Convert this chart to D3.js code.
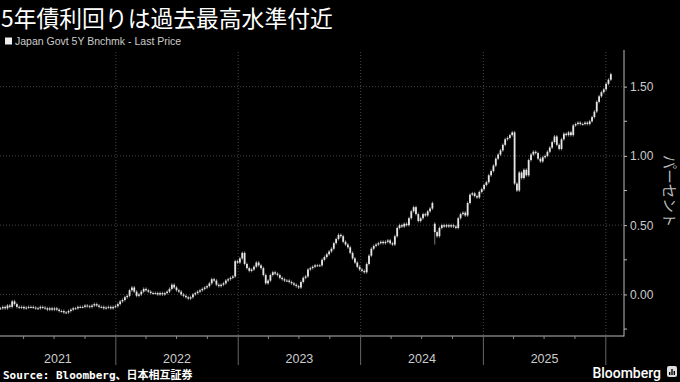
<!DOCTYPE html>
<html>
<head>
<meta charset="utf-8">
<script src="https://cdn.jsdelivr.net/npm/d3@7"></script>
<style>
  body { margin: 0; background: #000; }
  svg { display: block; }
</style>
</head>
<body>
<script>
	// chart text
	var titleText = "5年債利回りは過去最高水準付近";
	var seriesName = "Japan Govt 5Y Bnchmk - Last Price";
	var unitLabel = "パーセント";
	var sourceText = "Source: Bloomberg、日本相互証券";

	// axis ticks
	var years = [2021, 2022, 2023, 2024, 2025];
	var yTicks = [0, 0.5, 1.0, 1.5];
	var yMinorTicks = [-0.25, 0.25, 0.75, 1.25];

	// weekly closes (%), first week ending 2021-01-22
	var firstWeek = "2021-01-22";
	var close2021 = [-0.10, -0.09, -0.10, -0.08, -0.09, -0.05, -0.07, -0.09, -0.095, -0.09,
		-0.10, -0.095, -0.09, -0.09, -0.095, -0.10, -0.10, -0.09, -0.095, -0.10,
		-0.11, -0.10, -0.11, -0.10, -0.11, -0.12, -0.12, -0.13, -0.13, -0.12,
		-0.11, -0.10, -0.10, -0.09, -0.09, -0.09, -0.08, -0.085, -0.09, -0.08,
		-0.07, -0.08, -0.09, -0.09, -0.10, -0.095, -0.09, -0.10, -0.09, -0.085];
	var close2022 = [-0.07, -0.05, -0.04, -0.02, -0.01, 0.03, 0.05, 0.02, -0.01, 0.00,
		0.02, 0.04, 0.03, 0.02, 0.01, 0.01, 0.01, 0.00, 0.01, 0.00,
		0.01, 0.02, 0.04, 0.07, 0.05, 0.03, 0.02, 0.00, -0.01, -0.02,
		-0.03, -0.02, 0.00, 0.01, 0.02, 0.03, 0.04, 0.05, 0.06, 0.08,
		0.11, 0.10, 0.07, 0.06, 0.07, 0.08, 0.10, 0.11, 0.12, 0.13,
		0.24, 0.23];
	var close2023 = [0.26, 0.30, 0.22, 0.19, 0.17, 0.18, 0.20, 0.23, 0.21, 0.19,
		0.14, 0.08, 0.10, 0.14, 0.16, 0.15, 0.14, 0.12, 0.11, 0.10,
		0.10, 0.09, 0.08, 0.07, 0.06, 0.05, 0.09, 0.12, 0.13, 0.18,
		0.19, 0.20, 0.21, 0.21, 0.21, 0.25, 0.27, 0.29, 0.31, 0.33,
		0.37, 0.40, 0.43, 0.42, 0.38, 0.36, 0.34, 0.30, 0.26, 0.23,
		0.20, 0.18];
	var close2024 = [0.17, 0.16, 0.22, 0.28, 0.33, 0.35, 0.36, 0.37, 0.38, 0.37,
		0.38, 0.39, 0.37, 0.36, 0.42, 0.48, 0.50, 0.49, 0.51, 0.50,
		0.55, 0.60, 0.63, 0.58, 0.53, 0.55, 0.58, 0.57, 0.60, 0.62,
		0.66, 0.45, 0.42, 0.48, 0.50, 0.49, 0.50, 0.49, 0.50, 0.49,
		0.48, 0.55, 0.58, 0.59, 0.57, 0.66, 0.72, 0.73, 0.71, 0.70,
		0.74, 0.76];
	var close2025 = [0.79, 0.81, 0.86, 0.89, 0.93, 0.98, 1.01, 1.04, 1.08, 1.12,
		1.13, 1.15, 1.17, 0.80, 0.75, 0.88, 0.84, 0.90, 0.86, 0.97,
		1.01, 1.03, 1.02, 0.98, 0.96, 0.99, 1.00, 1.03, 1.06, 1.10,
		1.14, 1.08, 1.05, 1.12, 1.16, 1.15, 1.17, 1.15, 1.22, 1.23,
		1.24, 1.23, 1.23, 1.24, 1.23, 1.25, 1.28, 1.32, 1.39, 1.43,
		1.46, 1.48];
	var close2026 = [1.52, 1.55, 1.59];

	// weeks that opened on a gap (week index, open, low)
	var gapWeeks = [185];
	var gapOpens = [0.51];
	var gapLows = [0.36];

	var closes = close2021.concat(close2022, close2023, close2024, close2025, close2026);
	var start = new Date(firstWeek + "T00:00:00Z");
	var candles = closes.map(function (c, i) {
		var o = i > 0 ? closes[i - 1] : c;
		var k = gapWeeks.indexOf(i);
		var lo = null;
		if (k >= 0) { o = gapOpens[k]; lo = gapLows[k]; }
		return { date: d3.utcDay.offset(start, 7 * i), open: o, close: c, low: lo };
	});

	var width = 680, height = 382;
	var plotLeft = 0, plotRight = 624, plotTop = 52, plotBottom = 336;

	var svg = d3.select("body").append("svg")
		.attr("width", width)
		.attr("height", height)
		.style("background", "#000");

	var x = d3.scaleUtc()
		.domain([new Date(Date.UTC(2021, 0, 1)), new Date(Date.UTC(2026, 0, 1))])
		.range([-6.6, 605.8]);
	var y = d3.scaleLinear()
		.domain([-0.30, 1.75])
		.range([plotBottom, plotTop]);

	// title + legend
	svg.append("text")
		.attr("x", 1).attr("y", 26.5)
		.attr("fill", "#fff")
		.style("font-family", "'Noto Sans CJK JP', sans-serif")
		.style("font-size", "22.8px")
		.text(titleText);

	svg.append("rect")
		.attr("x", 5).attr("y", 37.5).attr("width", 7).attr("height", 7)
		.attr("fill", "#eee");
	svg.append("text")
		.attr("x", 15).attr("y", 45)
		.attr("fill", "#ccc")
		.style("font-family", "'Liberation Sans', sans-serif")
		.style("font-size", "10.5px")
		.text(seriesName);

	// gridlines
	svg.selectAll(".hgrid")
		.data(yTicks)
		.enter()
		.append("line")
		.attr("x1", plotLeft).attr("x2", plotRight)
		.attr("y1", function (d) { return y(d); })
		.attr("y2", function (d) { return y(d); })
		.attr("stroke", "#555")
		.attr("stroke-width", 0.8)
		.attr("stroke-dasharray", "1,2");

	var boundaries = years.slice(1).concat([2026]).map(function (yr) {
		return x(new Date(Date.UTC(yr, 0, 1)));
	});
	svg.selectAll(".vgrid")
		.data(boundaries)
		.enter()
		.append("line")
		.attr("x1", function (d) { return d; })
		.attr("x2", function (d) { return d; })
		.attr("y1", plotTop).attr("y2", plotBottom)
		.attr("stroke", "#555")
		.attr("stroke-width", 0.8)
		.attr("stroke-dasharray", "1,2");

	// candles
	var g = svg.append("g");
	g.selectAll(".wick")
		.data(candles)
		.enter()
		.append("line")
		.attr("x1", function (d) { return x(d.date); })
		.attr("x2", function (d) { return x(d.date); })
		.attr("y1", function (d) { return y(Math.max(d.open, d.close)) - 1.5; })
		.attr("y2", function (d) {
			return d.low !== null ? y(d.low) : y(Math.min(d.open, d.close)) + 1.5;
		})
		.attr("stroke", "#999")
		.attr("stroke-width", 0.8);
	g.selectAll(".body")
		.data(candles)
		.enter()
		.append("rect")
		.attr("x", function (d) { return x(d.date) - 0.9; })
		.attr("width", 1.8)
		.attr("y", function (d) { return y(Math.max(d.open, d.close)); })
		.attr("height", function (d) {
			return Math.max(1, Math.abs(y(d.open) - y(d.close)));
		})
		.attr("fill", "#e6e6e6");

	// axes
	var axisColor = "#bbb";
	svg.append("line")
		.attr("x1", plotLeft).attr("x2", plotRight)
		.attr("y1", plotBottom).attr("y2", plotBottom)
		.attr("stroke", axisColor).attr("stroke-width", 1);
	svg.append("line")
		.attr("x1", plotRight).attr("x2", plotRight)
		.attr("y1", plotTop - 2).attr("y2", plotBottom + 0.5)
		.attr("stroke", axisColor).attr("stroke-width", 1);

	var yAxis = d3.axisRight(y)
		.tickValues(yTicks)
		.tickSize(3)
		.tickPadding(3)
		.tickFormat(d3.format(".2f"));
	var yg = svg.append("g")
		.attr("transform", "translate(" + plotRight + ",0)")
		.call(yAxis);
	yg.select(".domain").remove();
	yg.selectAll("line").attr("stroke", axisColor);
	yg.selectAll("text")
		.attr("fill", "#ccc")
		.style("font-family", "'Liberation Sans', sans-serif")
		.style("font-size", "12px");

	svg.selectAll(".yminor")
		.data(yMinorTicks)
		.enter()
		.append("line")
		.attr("x1", plotRight).attr("x2", plotRight + 3)
		.attr("y1", function (d) { return y(d); })
		.attr("y2", function (d) { return y(d); })
		.attr("stroke", axisColor);

	svg.append("text")
		.attr("transform", "translate(664,191) rotate(90)")
		.attr("text-anchor", "middle")
		.attr("fill", "#bbb")
		.style("font-family", "'Noto Sans CJK JP', sans-serif")
		.style("font-size", "14.5px")
		.text(unitLabel);

	// quarter ticks and year separators below the axis
	var quarters = d3.utcMonth.every(3).range(new Date(Date.UTC(2021, 3, 1)), new Date(Date.UTC(2026, 0, 2)));
	svg.selectAll(".qtick")
		.data(quarters.filter(function (d) { return d.getUTCMonth() !== 0; }))
		.enter()
		.append("line")
		.attr("x1", function (d) { return x(d); })
		.attr("x2", function (d) { return x(d); })
		.attr("y1", plotBottom).attr("y2", plotBottom + 3)
		.attr("stroke", "#888");
	svg.selectAll(".ysep")
		.data(boundaries)
		.enter()
		.append("line")
		.attr("x1", function (d) { return d; })
		.attr("x2", function (d) { return d; })
		.attr("y1", plotBottom).attr("y2", 365)
		.attr("stroke", "#666");

	svg.selectAll(".ylabel")
		.data(years)
		.enter()
		.append("text")
		.attr("x", function (yr) {
			var a = Math.max(0, x(new Date(Date.UTC(yr, 0, 1))));
			var b = x(new Date(Date.UTC(yr + 1, 0, 1)));
			return (a + b) / 2;
		})
		.attr("y", 363)
		.attr("text-anchor", "middle")
		.attr("fill", "#ccc")
		.style("font-family", "'Liberation Sans', sans-serif")
		.style("font-size", "12.5px")
		.text(function (d) { return d; });

	// footer
	svg.append("text")
		.attr("x", 3).attr("y", 379)
		.attr("fill", "#fff")
		.style("font-family", "'DejaVu Sans Mono', 'Noto Sans CJK JP', monospace")
		.style("font-weight", "bold")
		.style("font-size", "11px")
		.text(sourceText);

	svg.append("text")
		.attr("x", 661).attr("y", 378)
		.attr("text-anchor", "end")
		.attr("fill", "#fff")
		.style("font-family", "'Roboto', sans-serif")
		.style("font-weight", "500")
		.style("font-size", "14px")
		.text("Bloomberg");
	svg.append("rect")
		.attr("x", 667).attr("y", 366).attr("width", 10).attr("height", 11).attr("rx", 2)
		.attr("fill", "#ddd");
	svg.selectAll(".logobar")
		.data([3, 6, 4])
		.enter()
		.append("rect")
		.attr("x", function (d, i) { return 669 + i * 2.3; })
		.attr("y", function (d) { return 375 - d; })
		.attr("width", 1.4)
		.attr("height", function (d) { return d; })
		.attr("fill", "#000");
</script>
</body>
</html>
